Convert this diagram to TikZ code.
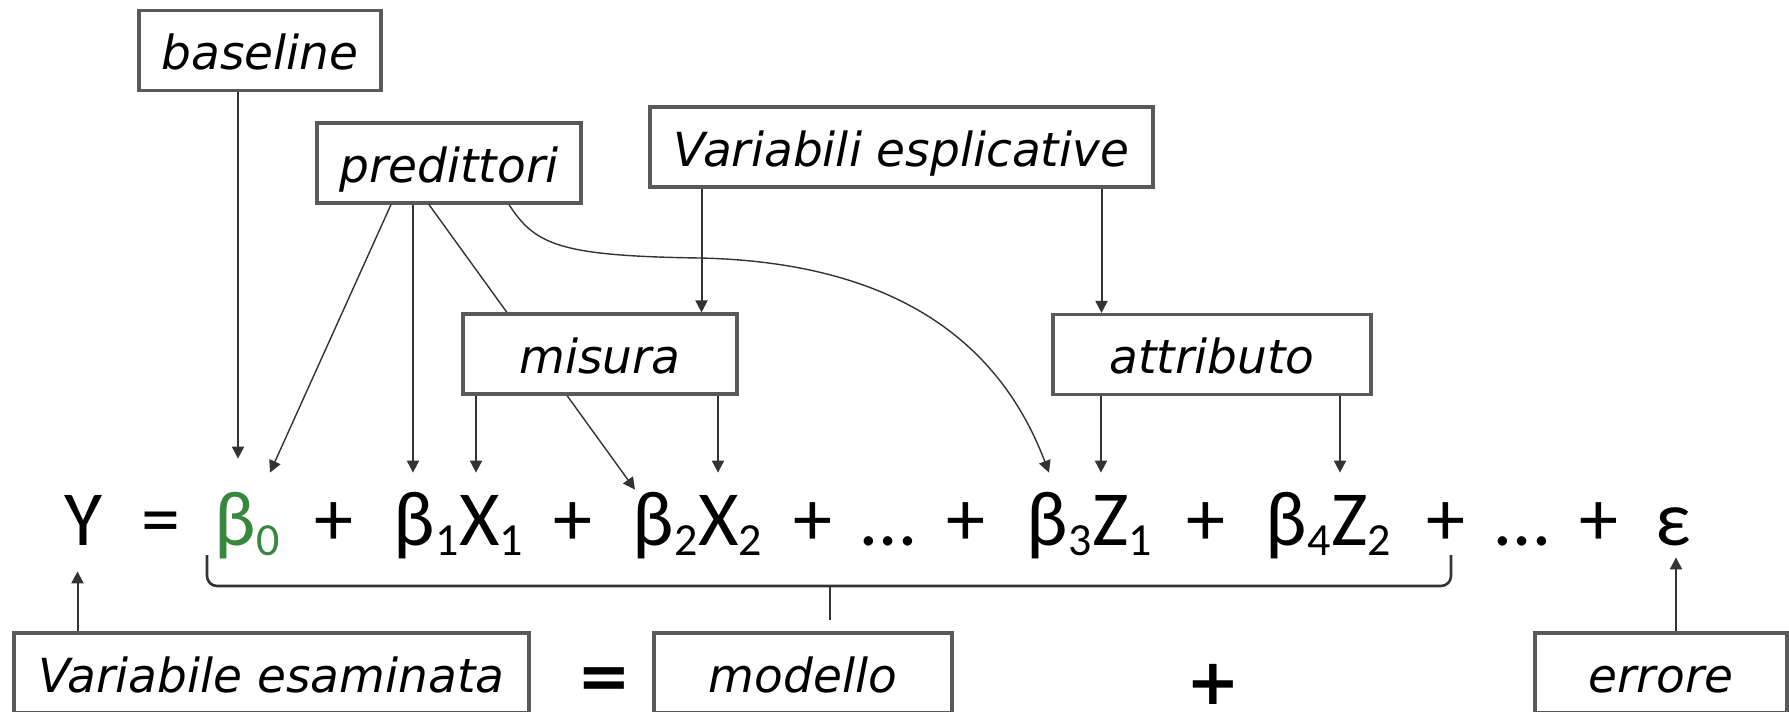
\documentclass[tikz,border=0pt]{standalone}
\usepackage{fontspec}
\usetikzlibrary{arrows.meta,positioning}
\newfontfamily\boxfont{DejaVu Sans}
\newfontfamily\eqfont{Carlito}
\definecolor{betagreen}{RGB}{55,135,60}
\newcommand{\idx}[1]{\raisebox{-5pt}{\fontsize{23}{23}\selectfont #1}}

\begin{document}
\begin{tikzpicture}[
    x=0.5pt, y=-0.5pt,
    every node/.style={inner sep=0pt},
    etichetta/.style={draw=black!65, line width=1.6pt, fill=white, minimum height=40pt,
        text height=19pt, text depth=0pt, font=\boxfont\itshape\fontsize{23.5}{28}\selectfont},
    termine/.style={anchor=base, font=\eqfont\fontsize{39}{45}\selectfont, text height=36pt, text depth=13pt},
    segno/.style={font=\boxfont\bfseries\fontsize{32}{32}\selectfont},
    freccia/.style={draw=black!80, line width=1pt, -{Triangle[length=6pt,width=6pt]}},
    sottile/.style={freccia, line width=0.7pt},
    graffa/.style={draw=black!80, line width=1.3pt, rounded corners=5pt}
]
\useasboundingbox (0,0) rectangle (1789,712);

% equazione
\node[termine] (nY) at (84,545) {Y};
\node[termine] (nEq) at (161,545) {=};
\node[termine, text=betagreen] (nB0) at (247,545) {β\idx{0}};
\node[termine] (nP1) at (334,545) {+};
\node[termine] (nB1) at (426,545) {β\idx{1}};
\node[termine, right=0pt of nB1] (nX1) {X\idx{1}};
\node[termine] (nP2) at (573,545) {+};
\node[termine] (nB2) at (665,545) {β\idx{2}};
\node[termine, right=0pt of nB2] (nX2) {X\idx{2}};
\node[termine] (nP3) at (813,545) {+};
\node[termine] (nD1) at (888,545) {…};
\node[termine] (nP4) at (966,545) {+};
\node[termine] (nB3) at (1059,545) {β\idx{3}};
\node[termine, right=0pt of nB3] (nZ1) {Z\idx{1}};
\node[termine] (nP5) at (1206,545) {+};
\node[termine] (nB4) at (1298,545) {β\idx{4}};
\node[termine, right=0pt of nB4] (nZ2) {Z\idx{2}};
\node[termine] (nP6) at (1446,545) {+};
\node[termine] (nD2) at (1522,545) {…};
\node[termine] (nP7) at (1599,545) {+};
\node[termine] (nEps) at (1673,545) {ε};

% riquadri in alto
\node[etichetta, minimum width=121pt] (baseline) at (260,50.5) {baseline};
\node[etichetta, minimum width=132pt] (predittori) at (449,163) {predittori};
\node[etichetta, minimum width=251.5pt] (variabili) at (901.5,147) {Variabili esplicative};
\node[etichetta, minimum width=159pt] (attributo) at (1212,354.5) {attributo};

% linea dietro a misura
\draw[sottile] ([xshift=-10pt]predittori.south) -- ([xshift=-15pt,yshift=-8.5pt]nB2.north);
\node[etichetta, minimum width=137pt] (misura) at (600,354) {misura};

% frecce verso l'equazione
\draw[freccia, shorten >=7pt] ([xshift=-11pt]baseline.south) -- ([xshift=-11pt]baseline.south |- nB0.north);
\draw[sottile] ([xshift=-29pt]predittori.south) -- ([xshift=11.5pt]nB0.north);
\draw[freccia] ([xshift=-18pt]predittori.south) -- ([xshift=-18pt]predittori.south |- nB1.north);
\draw[sottile] ([xshift=30pt]predittori.south) .. controls (535,245) and (560,256) .. (700,258)
    .. controls (880,262) and (995,330) .. ([xshift=-5pt]nB3.north);
\draw[freccia] ([xshift=-100pt]variabili.south) -- ([xshift=-100pt]variabili.south |- misura.north);
\draw[freccia] ([xshift=100pt]variabili.south) -- ([xshift=100pt]variabili.south |- attributo.north);
\draw[freccia] ([xshift=-62pt]misura.south) -- ([xshift=-62pt]misura.south |- nX1.north);
\draw[freccia] ([xshift=59pt]misura.south) -- ([xshift=59pt]misura.south |- nX2.north);
\draw[freccia] ([xshift=-55.5pt]attributo.south) -- ([xshift=-55.5pt]attributo.south |- nZ1.north);
\draw[freccia] ([xshift=64pt]attributo.south) -- ([xshift=64pt]attributo.south |- nZ2.north);

% graffa del modello
\coordinate (brL) at (207,555);
\coordinate (brR) at (1451,555);
\coordinate (brM) at (830,586);
\coordinate (brT) at (830,620);
\draw[graffa] (brL) |- (brM) -| (brR);
\draw[graffa] (brM) -- (brT);

% riquadri in basso
\node[etichetta, minimum width=257.5pt] (esaminata) at (271.5,673) {Variabile esaminata};
\node[segno] (uguale) at (604,683) {=};
\node[etichetta, minimum width=149pt] (modello) at (803,673) {modello};
\node[segno] (piu) at (1213,684) {+};
\node[etichetta, minimum width=126pt] (errore) at (1661,673) {errore};

\draw[freccia] ([xshift=-97pt]esaminata.north) -- ([xshift=-97pt]esaminata.north |- nY.south);
\draw[freccia] ([xshift=7.5pt]errore.north) -- ([xshift=7.5pt,yshift=7pt]errore.north |- nEps.south);
\end{tikzpicture}
\end{document}
